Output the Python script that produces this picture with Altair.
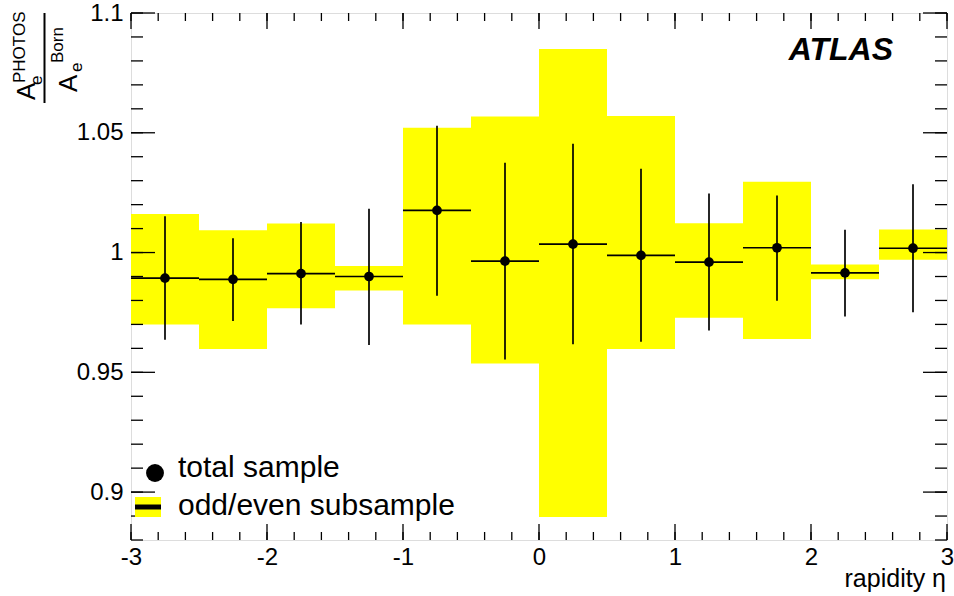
import altair as alt
import pandas as pd

# ---- data ----
bin_lo = [-3.0, -2.5, -2.0, -1.5, -1.0, -0.5, 0.0, 0.5, 1.0, 1.5, 2.0, 2.5]
bin_hi = [-2.5, -2.0, -1.5, -1.0, -0.5, 0.0, 0.5, 1.0, 1.5, 2.0, 2.5, 3.0]
centers = [-2.75, -2.25, -1.75, -1.25, -0.75, -0.25, 0.25, 0.75, 1.25, 1.75, 2.25, 2.75]
vals = [0.9893, 0.9888, 0.9912, 0.9900, 1.0176, 0.9964, 1.0035, 0.9988, 0.9960, 1.0020, 0.9915, 1.0018]
err_hi = [1.0151, 1.0060, 1.0128, 1.0183, 1.0529, 1.0375, 1.0454, 1.0350, 1.0246, 1.0238, 1.0095, 1.0285]
err_lo = [0.9636, 0.9714, 0.9700, 0.9614, 0.9820, 0.9554, 0.9617, 0.9628, 0.9675, 0.9799, 0.9733, 0.9751]
band_hi = [1.0161, 1.0093, 1.0121, 0.9944, 1.0521, 1.0568, 1.0850, 1.0570, 1.0122, 1.0296, 0.9950, 1.0096]
band_lo = [0.9700, 0.9597, 0.9767, 0.9842, 0.9700, 0.9537, 0.8896, 0.9597, 0.9728, 0.9639, 0.9888, 0.9970]

x_labels = [-3, -2, -1, 0, 1, 2, 3]
y_labels = [0.9, 0.95, 1.0, 1.05, 1.1]
x_minor = [round(-3 + 0.2 * i, 2) for i in range(31)]
y_minor = [round(0.88 + 0.01 * i, 2) for i in range(23)]
y_major = [0.9, 0.95, 1.0, 1.05, 1.1]

legend_labels = ["total sample", "odd/even subsample"]
x_title = "rapidity η"
atlas_label = "ATLAS"

W, H = 816, 527
FONT = "Liberation Sans"

df = pd.DataFrame({
    "lo": bin_lo, "hi": bin_hi, "c": centers, "v": vals,
    "elo": err_lo, "ehi": err_hi, "blo": band_lo, "bhi": band_hi,
})

xs = alt.Scale(domain=[-3, 3], nice=False, zero=False)
ys = alt.Scale(domain=[0.88, 1.1], nice=False, zero=False)

base = alt.Chart(df)

band = base.mark_rect(color="#ffff00").encode(
    x=alt.X("lo:Q", scale=xs,
            axis=alt.Axis(values=x_labels, labelExpr="'' + datum.value",
                          tickSize=0, domain=False, grid=False,
                          labelFontSize=24, labelFont=FONT, labelPadding=5,
                          labelColor="black", title=None, labelFlush=False)),
    x2="hi:Q",
    y=alt.Y("blo:Q", scale=ys,
            axis=alt.Axis(values=y_labels, labelExpr="'' + datum.value",
                          tickSize=0, domain=False, grid=False,
                          labelFontSize=24, labelFont=FONT, labelPadding=8,
                          labelColor="black", title=None, labelFlush=False)),
    y2="bhi:Q",
)

hbar = base.mark_rule(color="black", strokeWidth=1.7).encode(
    x=alt.X("lo:Q", scale=xs), x2="hi:Q", y=alt.Y("v:Q", scale=ys)
)
vbar = base.mark_rule(color="black", strokeWidth=1.7).encode(
    x=alt.X("c:Q", scale=xs), y=alt.Y("elo:Q", scale=ys), y2="ehi:Q"
)
pts = base.mark_circle(color="black", opacity=1, size=95).encode(
    x=alt.X("c:Q", scale=xs), y=alt.Y("v:Q", scale=ys)
)

# ---- inward ticks (ROOT style frame) ----
xmaj = pd.DataFrame({"t": x_labels})
xmin = pd.DataFrame({"t": x_minor})
ymaj = pd.DataFrame({"t": y_major})
ymin = pd.DataFrame({"t": y_minor})

tick_style = dict(color="black", strokeWidth=1.3)
ticks = [
    alt.Chart(xmaj).mark_rule(**tick_style).encode(x=alt.X("t:Q", scale=xs), y=alt.value(H), y2=alt.value(H - 16)),
    alt.Chart(xmaj).mark_rule(**tick_style).encode(x=alt.X("t:Q", scale=xs), y=alt.value(0), y2=alt.value(16)),
    alt.Chart(xmin).mark_rule(**tick_style).encode(x=alt.X("t:Q", scale=xs), y=alt.value(H), y2=alt.value(H - 8)),
    alt.Chart(xmin).mark_rule(**tick_style).encode(x=alt.X("t:Q", scale=xs), y=alt.value(0), y2=alt.value(8)),
    alt.Chart(ymaj).mark_rule(**tick_style).encode(y=alt.Y("t:Q", scale=ys), x=alt.value(0), x2=alt.value(24)),
    alt.Chart(ymaj).mark_rule(**tick_style).encode(y=alt.Y("t:Q", scale=ys), x=alt.value(W), x2=alt.value(W - 24)),
    alt.Chart(ymin).mark_rule(**tick_style).encode(y=alt.Y("t:Q", scale=ys), x=alt.value(0), x2=alt.value(12)),
    alt.Chart(ymin).mark_rule(**tick_style).encode(y=alt.Y("t:Q", scale=ys), x=alt.value(W), x2=alt.value(W - 12)),
]

one = pd.DataFrame({"k": [0]})

def txt(s, x, y, size, angle=0, align="left", baseline="alphabetic", **kw):
    mk = dict(text=s, fontSize=size, font=FONT, color="black", align=align, baseline=baseline)
    if angle:
        mk["angle"] = angle
    mk.update(kw)
    return alt.Chart(one).mark_text(**mk).encode(x=alt.value(x), y=alt.value(y))

# y title (fraction)
ytitle = [
    txt("A", -96, 87, 26, angle=270),
    txt("e", -89, 72, 17, angle=270),
    txt("PHOTOS", -106, 70, 17, angle=270),
    alt.Chart(one).mark_rule(color="black", strokeWidth=2).encode(
        x=alt.value(-86.5), y=alt.value(0), y2=alt.value(90)),
    txt("A", -54, 79, 26, angle=270),
    txt("e", -49, 59, 17, angle=270),
    txt("Born", -68, 50, 17, angle=270),
]

# x title & ATLAS
others = [
    txt(x_title, W - 1, 574, 25, align="right"),
    txt(atlas_label, 762, 47, 32, align="right", fontStyle="italic", fontWeight="bold"),
]

# legend
legend = [
    alt.Chart(one).mark_circle(color="black", opacity=1, size=320).encode(
        x=alt.value(24), y=alt.value(460)),
    txt(legend_labels[0], 47, 464, 30),
    alt.Chart(one).mark_rect(color="#ffff00").encode(
        x=alt.value(4), x2=alt.value(30), y=alt.value(484), y2=alt.value(504)),
    alt.Chart(one).mark_rule(color="black", strokeWidth=5).encode(
        x=alt.value(4), x2=alt.value(30), y=alt.value(494)),
    txt(legend_labels[1], 47, 502, 30),
]

chart = alt.layer(band, hbar, vbar, pts, *ticks, *ytitle, *others, *legend).properties(
    width=W, height=H,
    autosize=alt.AutoSizeParams(type="none"),
    padding={"left": 131, "top": 13, "right": 7, "bottom": 56},
).configure_view(stroke="black", strokeWidth=1.6).configure(background="white")

chart.save("out.html", embed_options={"renderer": "svg", "actions": False})
